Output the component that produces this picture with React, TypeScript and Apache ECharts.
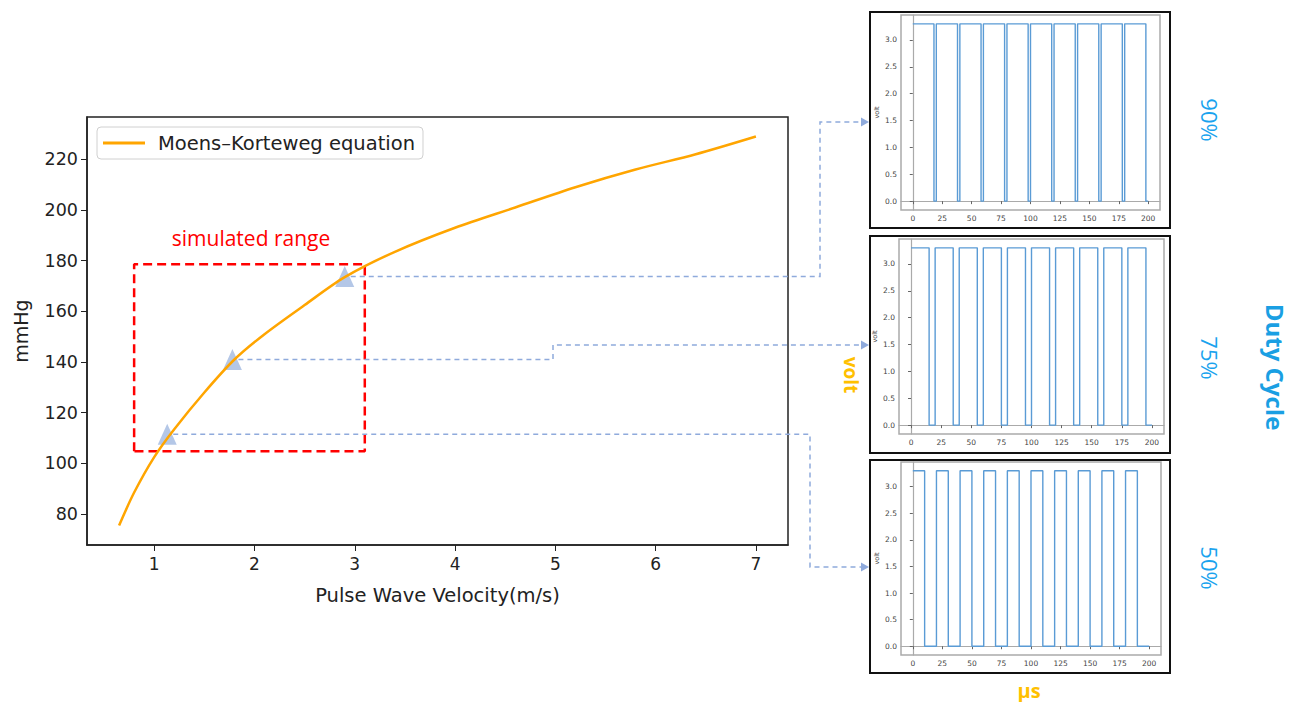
import React, { useEffect, useRef } from "react";
import * as echarts from "echarts";

// ---- main chart data ----
const pwv = [0.65, 0.8, 1.0, 1.2, 1.5, 1.8, 2.1, 2.5, 2.9, 3.4, 4.0, 4.6, 5.2, 5.8, 6.4, 7.0];
const mmHg = [75.5, 88.5, 102.5, 113.5, 128, 141, 151, 162.5, 173.5, 183.5, 193, 201, 209, 216, 222, 229];
const markerPwv = [1.13, 1.78, 2.9];
const markerMmHg = [111.5, 141.0, 173.8];
const rangePwv = [0.8, 3.1];
const rangeMmHg = [104.8, 178.6];
const mainXTicks = [1, 2, 3, 4, 5, 6, 7];
const mainYTicks = [80, 100, 120, 140, 160, 180, 200, 220];

// ---- duty cycle panels ----
const panelXTicks = [0, 25, 50, 75, 100, 125, 150, 175, 200];
const panelYTicks = [0, 0.5, 1.0, 1.5, 2.0, 2.5, 3.0];
const dutyLabels = ["90%", "75%", "50%"];
const highVolt = 3.3;
const fall90 = [18, 38, 58, 78, 98, 118, 138, 158, 178, 198];
const rise90 = [20, 40, 60, 80, 100, 120, 140, 160, 180];
const fall75 = [15, 35, 55, 75, 95, 115, 135, 155, 175, 195];
const rise75 = [20, 40, 60, 80, 100, 120, 140, 160, 180];
const fall50 = [10, 30, 50, 70, 90, 110, 130, 150, 170, 190];
const rise50 = [20, 40, 60, 80, 100, 120, 140, 160, 180];

function wave(falls: number[], rises: number[]) {
  const d: number[][] = [[0, highVolt]];
  falls.forEach((f, i) => {
    d.push([f, 0]);
    if (i < rises.length) d.push([rises[i], highVolt]);
  });
  d.push([200, 0]);
  return d;
}

const waves = [wave(fall90, rise90), wave(fall75, rise75), wave(fall50, rise50)];

const panelGrids = [
  { left: 901, top: 15, width: 259, height: 195 },
  { left: 899, top: 239, width: 265, height: 195 },
  { left: 901, top: 462, width: 260, height: 193 },
];
const panelBoxes = [
  { x: 870, y: 12, w: 300, h: 216 },
  { x: 870, y: 236, w: 300, h: 217 },
  { x: 870, y: 460, w: 300, h: 213 },
];

const DJ = "DejaVu Sans";
const OS = "'Open Sans', 'Noto Sans', sans-serif";
const CONN = "#8faadc";

export default function App() {
  const ref = useRef<HTMLDivElement>(null);
  useEffect(() => {
    document.body.style.margin = "0";
    const chart = echarts.init(ref.current!, null, { renderer: "svg" });

    const grids: any[] = [
      { left: 87, top: 117, width: 701, height: 428, show: true, borderColor: "#222", borderWidth: 1.5, outerBoundsMode: "none" },
      ...panelGrids.map((g) => ({ ...g, show: true, borderColor: "#aaa", borderWidth: 1.5, outerBoundsMode: "none" })),
    ];

    const xAxes: any[] = [
      {
        gridIndex: 0, type: "value", min: 0.33, max: 7.32,
        axisLine: { show: true, lineStyle: { color: "#222", width: 1.5 } },
        axisTick: { show: true, length: 6, customValues: mainXTicks, lineStyle: { color: "#222" } },
        axisLabel: { customValues: mainXTicks, fontSize: 17, color: "#222", fontFamily: DJ, margin: 10 },
        splitLine: { show: false },
        name: "Pulse Wave Velocity(m/s)", nameLocation: "middle", nameGap: 40,
        nameTextStyle: { fontSize: 19.5, color: "#222", fontFamily: DJ },
      },
      ...panelGrids.map((_, i) => ({
        gridIndex: i + 1, type: "value", min: -10, max: 210,
        axisLine: { show: true, lineStyle: { color: "#aaa", width: 1.2 } },
        axisTick: { show: true, length: 3, customValues: panelXTicks, lineStyle: { color: "#666" } },
        axisLabel: { customValues: panelXTicks, fontSize: 7.5, color: "#444", fontFamily: DJ, margin: 4 },
        splitLine: { show: false },
      })),
    ];

    const yAxes: any[] = [
      {
        gridIndex: 0, type: "value", min: 67.8, max: 236.7,
        axisLine: { show: true, lineStyle: { color: "#222", width: 1.5 } },
        axisTick: { show: true, length: 6, customValues: mainYTicks, lineStyle: { color: "#222" } },
        axisLabel: { customValues: mainYTicks, fontSize: 17.5, color: "#222", fontFamily: DJ, margin: 9 },
        splitLine: { show: false },
        name: "mmHg", nameLocation: "middle", nameGap: 57, nameRotate: 90,
        nameTextStyle: { fontSize: 19, color: "#222", fontFamily: DJ },
      },
      ...panelGrids.map((_, i) => ({
        gridIndex: i + 1, type: "value", min: -0.165, max: 3.465,
        axisLine: { show: true, lineStyle: { color: "#aaa", width: 1.2 } },
        axisTick: { show: true, length: 3, customValues: panelYTicks, lineStyle: { color: "#666" } },
        axisLabel: {
          customValues: panelYTicks, fontSize: 7.5, color: "#444", fontFamily: DJ, margin: 4,
          formatter: (v: number) => v.toFixed(1),
        },
        splitLine: { show: false },
        name: "volt", nameLocation: "middle", nameGap: 21, nameRotate: 90,
        nameTextStyle: { fontSize: 6.5, color: "#444", fontFamily: DJ },
      })),
    ];

    const series: any[] = [
      {
        name: "simulated range", type: "line", xAxisIndex: 0, yAxisIndex: 0, symbol: "none",
        data: [
          [rangePwv[0], rangeMmHg[0]], [rangePwv[0], rangeMmHg[1]], [rangePwv[1], rangeMmHg[1]],
          [rangePwv[1], rangeMmHg[0]], [rangePwv[0], rangeMmHg[0]],
        ],
        lineStyle: { color: "#ff0000", width: 2.5, type: [9, 5] }, z: 2, silent: true,
      },
      {
        name: "markers", type: "scatter", xAxisIndex: 0, yAxisIndex: 0, symbol: "triangle",
        symbolSize: [19, 21], itemStyle: { color: "#b4c7e7", opacity: 1 },
        data: markerPwv.map((x, i) => [x, markerMmHg[i]]), z: 3,
      },
      {
        name: "Moens–Korteweg equation", type: "line", xAxisIndex: 0, yAxisIndex: 0, symbol: "none",
        smooth: 0.3,
        data: pwv.map((x, i) => [x, mmHg[i]]), lineStyle: { color: "#ffa500", width: 2.5 },
        itemStyle: { color: "#ffa500" }, z: 4,
      },
      ...waves.map((w, i) => ({
        name: "duty " + dutyLabels[i], type: "line", xAxisIndex: i + 1, yAxisIndex: i + 1,
        symbol: "none", step: "end", data: w, lineStyle: { color: "#5a9bd5", width: 1.4 },
      })),
    ];

    chart.setOption({
      animation: false,
      backgroundColor: "#fff",
      grid: grids,
      xAxis: xAxes,
      yAxis: yAxes,
      series,
      legend: {
        data: [{ name: "Moens–Korteweg equation", icon: "rect" }], left: 97, top: 127, orient: "vertical",
        itemWidth: 42, itemHeight: 3, itemGap: 10,
        textStyle: { fontSize: 19.5, color: "#222", fontFamily: DJ, padding: [0, 0, 0, 8] },
        borderColor: "#d0d0d0", borderWidth: 1, borderRadius: 4, padding: [6, 8, 6, 6],
        backgroundColor: "#fff",
      },
    });

    const pts = markerPwv.map((x, i) =>
      chart.convertToPixel({ xAxisIndex: 0, yAxisIndex: 0 }, [x, markerMmHg[i]]) as number[]
    );
    const turnX = [810, 553, 820];
    const targetY = [567, 345, 122];
    const tipX = 870;

    const graphics: any[] = [];
    panelBoxes.forEach((b, i) => {
      graphics.push({
        type: "rect", id: "box" + i, shape: { x: b.x, y: b.y, width: b.w, height: b.h },
        style: { fill: "none", stroke: "#111", lineWidth: 2 }, z: 10,
      });
    });
    pts.forEach((p, i) => {
      graphics.push({
        type: "polyline", id: "conn" + i,
        shape: { points: [[p[0] + 6, p[1]], [turnX[i], p[1]], [turnX[i], targetY[i]], [tipX - 8, targetY[i]]] },
        style: { stroke: CONN, lineWidth: 1.5, lineDash: [5, 4], fill: "none" }, z: 20,
      });
      graphics.push({
        type: "polygon", id: "head" + i,
        shape: { points: [[tipX - 9, targetY[i] - 4.5], [tipX - 1, targetY[i]], [tipX - 9, targetY[i] + 4.5]] },
        style: { fill: CONN }, z: 20,
      });
    });
    graphics.push({
      type: "text", id: "simrange", x: 251, y: 238,
      style: { text: "simulated range", fill: "#ff0000", font: `21px ${OS}`, align: "center", verticalAlign: "middle" },
      z: 20,
    });
    const dutyY = [120, 358, 568];
    dutyLabels.forEach((t, i) => {
      graphics.push({
        type: "text", id: "duty" + i, x: 1210, y: dutyY[i], rotation: -Math.PI / 2,
        style: { text: t, fill: "#1aa3ee", font: `22px ${OS}`, align: "center", verticalAlign: "middle" },
        z: 20,
      });
    });
    graphics.push({
      type: "text", id: "dutycycle", x: 1275, y: 367, rotation: -Math.PI / 2,
      style: { text: "Duty Cycle", fill: "#1a9fe3", font: `bold 24px ${OS}`, align: "center", verticalAlign: "middle" },
      z: 20,
    });
    graphics.push({
      type: "text", id: "voltlbl", x: 851, y: 375, rotation: -Math.PI / 2,
      style: { text: "volt", fill: "#ffc000", font: `bold 19px ${OS}`, align: "center", verticalAlign: "middle" },
      z: 20,
    });
    graphics.push({
      type: "text", id: "uslbl", x: 1029, y: 690,
      style: { text: "µs", fill: "#ffc000", font: `bold 20px ${OS}`, align: "center", verticalAlign: "middle" },
      z: 20,
    });

    chart.setOption({ graphic: graphics });

    return () => chart.dispose();
  }, []);

  return <div ref={ref} style={{ width: 1298, height: 702 }} />;
}
